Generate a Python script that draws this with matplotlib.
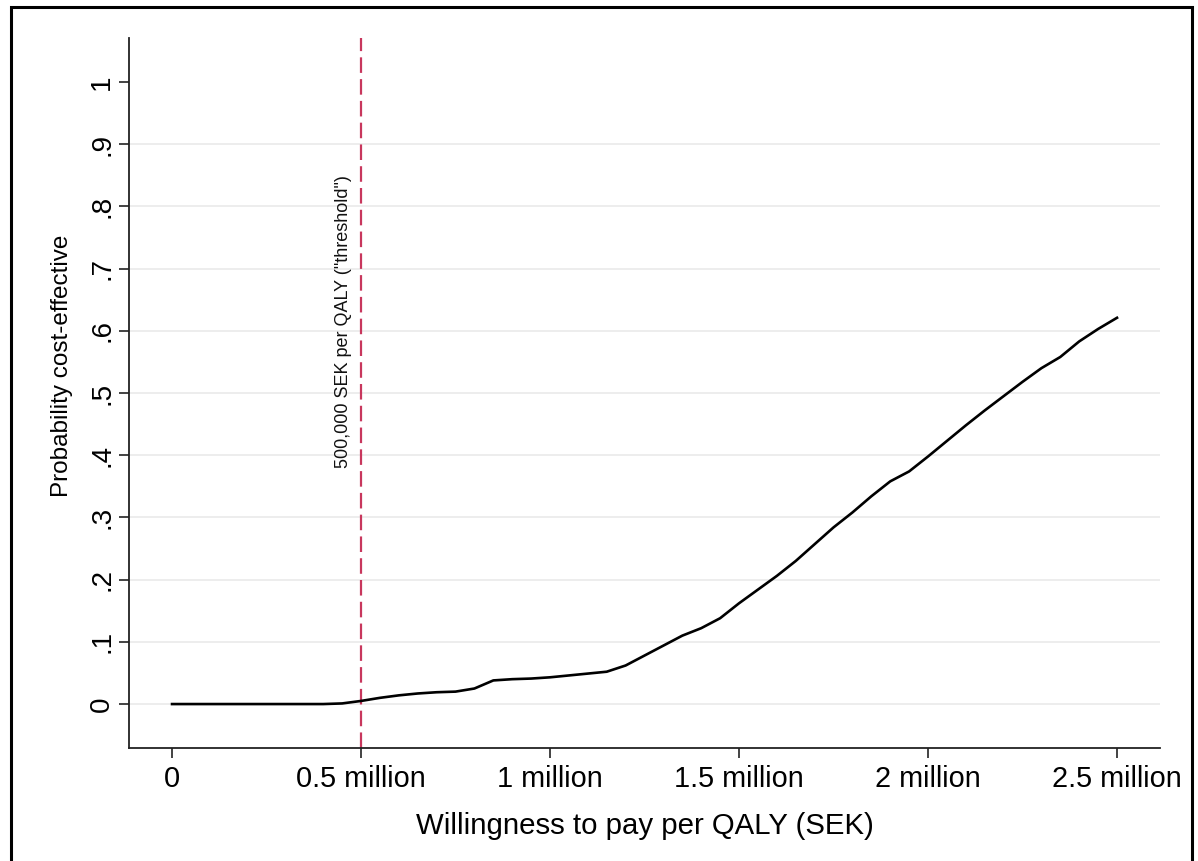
import numpy as np
import matplotlib
matplotlib.use("Agg")
import matplotlib.pyplot as plt
from matplotlib.patches import Rectangle
from matplotlib.transforms import offset_copy

plt.rcParams['font.family'] = ['Liberation Sans', 'DejaVu Sans']

# cost-effectiveness acceptability curve
wtp = np.array([0, 0.1, 0.2, 0.3, 0.4, 0.45, 0.5, 0.55, 0.6, 0.65, 0.7, 0.75,
                0.8, 0.85, 0.9, 0.95, 1.0, 1.05, 1.1, 1.15, 1.2, 1.25, 1.3,
                1.35, 1.4, 1.45, 1.5, 1.55, 1.6, 1.65, 1.7, 1.75, 1.8, 1.85,
                1.9, 1.95, 2.0, 2.05, 2.1, 2.15, 2.2, 2.25, 2.3, 2.35, 2.4,
                2.45, 2.5]) * 1e6
prob_ce = [0, 0, 0, 0, 0, 0.001, 0.005, 0.010, 0.014, 0.017, 0.019, 0.020,
           0.025, 0.038, 0.040, 0.041, 0.043, 0.046, 0.049, 0.052, 0.062,
           0.078, 0.094, 0.110, 0.122, 0.138, 0.162, 0.184, 0.206, 0.230,
           0.257, 0.284, 0.308, 0.334, 0.358, 0.374, 0.398, 0.423, 0.448,
           0.472, 0.495, 0.518, 0.540, 0.558, 0.583, 0.603, 0.621]

threshold = 500000
threshold_label = '500,000 SEK per QALY ("threshold")'

xticks = [0, 500000, 1000000, 1500000, 2000000, 2500000]
xticklabels = ['0', '0.5 million', '1 million', '1.5 million', '2 million', '2.5 million']
yticks = [0, 0.1, 0.2, 0.3, 0.4, 0.5, 0.6, 0.7, 0.8, 0.9, 1.0]
yticklabels = ['0', '.1', '.2', '.3', '.4', '.5', '.6', '.7', '.8', '.9', '1']

fig = plt.figure(figsize=(11.98, 8.61), dpi=100)
ax = fig.add_axes([0.1077, 0.1312, 0.8606, 0.8246])

# light horizontal grid, none at the top tick
for yv in yticks[:-1]:
    ax.axhline(yv, color='#ececec', lw=1.3, zorder=0)

ax.plot(wtp, prob_ce, color='black', lw=1.9, solid_joinstyle='round', zorder=3)

ax.axvline(threshold, color='#c8375d', lw=1.6, dashes=(7.0, 2.8), zorder=2)
ax.text(threshold, 0.615, threshold_label, rotation=90, ha='right', va='center',
        fontsize=13, color='#111111',
        transform=offset_copy(ax.transData, fig=fig, x=-9, y=0, units='dots'))

ax.set_xlim(-113800, 2613800)
ax.set_ylim(-0.0707, 1.0707)
ax.set_xticks(xticks)
ax.set_xticklabels(xticklabels, fontsize=20.8)
ax.set_yticks(yticks)
ax.set_yticklabels(yticklabels, fontsize=20, rotation=90, va='center')

for side in ['top', 'right']:
    ax.spines[side].set_visible(False)
for side in ['left', 'bottom']:
    ax.spines[side].set_linewidth(1.3)
    ax.spines[side].set_color('#222222')
ax.tick_params(axis='both', length=7, width=1.2, color='#222222')
ax.tick_params(axis='x', pad=5)
ax.tick_params(axis='y', pad=3)

ax.set_xlabel('Willingness to pay per QALY (SEK)', fontsize=21.2, labelpad=14)
ax.set_ylabel('Probability cost-effective', fontsize=17.5)
ax.yaxis.set_label_coords(-0.0545, 0.539)

# frame round the whole figure
fig.patches.append(Rectangle((0.0092, -0.05), 0.9858, 0.9919 + 0.05,
                             transform=fig.transFigure, fill=False,
                             edgecolor='black', lw=2.2, clip_on=False))

fig.savefig('out.png', dpi=100)
